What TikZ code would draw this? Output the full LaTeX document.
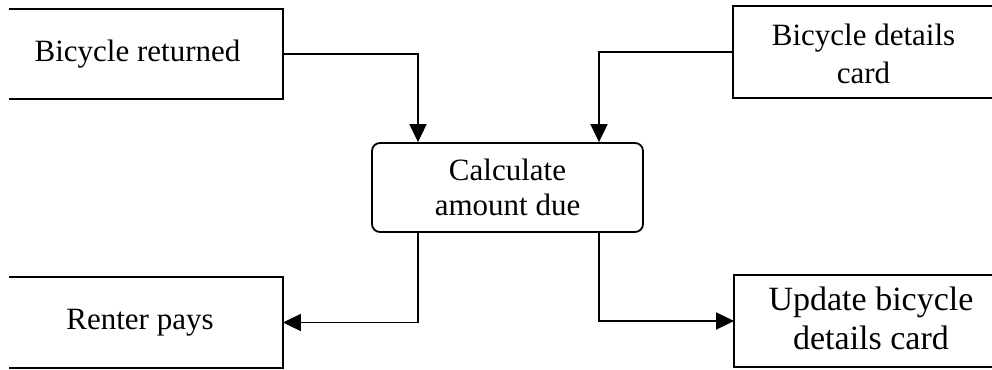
\documentclass[tikz,border=0pt]{standalone}
\usepackage{fontspec}
\setmainfont{Liberation Serif}
\usetikzlibrary{arrows.meta}
\begin{document}
\begin{tikzpicture}[x=1pt,y=-1pt,
  line width=1.8pt,
  boxarea/.style={inner sep=0pt,minimum width=#1},
  txt/.style={align=center,inner sep=0pt,font=\fontsize{31}{38}\selectfont},
  arr/.style={-{Triangle[width=17pt,length=18pt]}},
  procbox/.style={draw,rounded corners=8pt,inner sep=0pt,minimum width=271pt,minimum height=89pt,
    align=center,font=\fontsize{31}{35}\selectfont}]
\useasboundingbox (0,0) rectangle (992,369);

% three-sided boxes (open on the outer side)
\node[boxarea=272pt,minimum height=88pt] (ret) at (146,54) {};
\node[boxarea=258pt,minimum height=90pt] (card) at (863,52) {};
\node[boxarea=272pt,minimum height=89pt] (pay) at (146,322.5) {};
\node[boxarea=257pt,minimum height=90pt] (upd) at (863.5,321) {};

\draw (ret.north west) -- (ret.north east) -- (ret.south east) -- (ret.south west);
\draw (pay.north west) -- (pay.north east) -- (pay.south east) -- (pay.south west);
\draw (card.north east) -- (card.north west) -- (card.south west) -- (card.south east);
\draw (upd.north east) -- (upd.north west) -- (upd.south west) -- (upd.south east);

% box texts
\node[txt] (rett) at (137.5,54) {Bicycle returned};
\node[txt] (cardt) at (863.5,54) {Bicycle details\\card};
\node[txt] (payt) at (140,323) {Renter pays};
\node[txt,font=\fontsize{34}{39}\selectfont] (updt) at (871,318) {Update bicycle\\details card};

% process
\node[procbox] (calc) at (507.5,187.5) {Calculate\\amount due};

% flows
\draw[arr] (ret.east) -| ([xshift=-89.5pt]calc.north);
\draw[arr] (card.west) -| ([xshift=91.5pt]calc.north);
\draw[arr] ([xshift=-89.5pt]calc.south) |- (pay.east);
\draw[arr] ([xshift=91.5pt]calc.south) |- (upd.west);
\end{tikzpicture}
\end{document}
